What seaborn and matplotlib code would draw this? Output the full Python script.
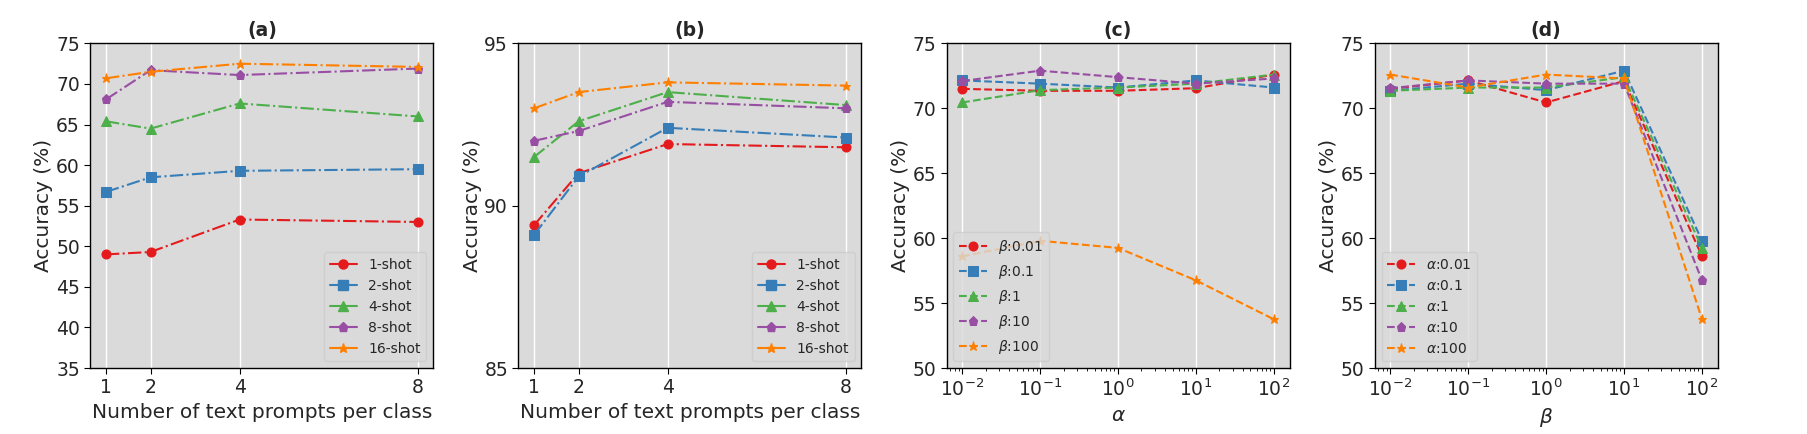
import numpy as np
import pandas as pd
import matplotlib
matplotlib.use("Agg")
import matplotlib.pyplot as plt
from matplotlib.lines import Line2D
import seaborn as sns

# ---- data ----
n_prompts = [1, 2, 4, 8]
shots = ["1-shot", "2-shot", "4-shot", "8-shot", "16-shot"]

# (a) accuracy vs number of text prompts
acc_a_1shot = [49.0, 49.3, 53.3, 53.0]
acc_a_2shot = [56.7, 58.5, 59.3, 59.5]
acc_a_4shot = [65.4, 64.5, 67.6, 66.0]
acc_a_8shot = [68.1, 71.7, 71.1, 71.9]
acc_a_16shot = [70.7, 71.5, 72.5, 72.1]

# (b) accuracy vs number of text prompts
acc_b_1shot = [89.4, 91.0, 91.9, 91.8]
acc_b_2shot = [89.1, 90.9, 92.4, 92.1]
acc_b_4shot = [91.5, 92.6, 93.5, 93.1]
acc_b_8shot = [92.0, 92.3, 93.2, 93.0]
acc_b_16shot = [93.0, 93.5, 93.8, 93.7]

# (c)/(d) accuracy grid, rows = beta, columns = alpha
alphas = [0.01, 0.1, 1, 10, 100]
betas = [0.01, 0.1, 1, 10, 100]
grid_labels = ["0.01", "0.1", "1", "10", "100"]
acc_beta_001 = [71.5, 71.35, 71.35, 71.55, 72.6]
acc_beta_01 = [72.15, 71.9, 71.6, 72.15, 71.6]
acc_beta_1 = [70.45, 71.4, 71.6, 71.9, 72.6]
acc_beta_10 = [72.1, 72.9, 72.4, 71.9, 72.3]
acc_beta_100 = [58.6, 59.8, 59.25, 56.75, 53.75]

colors = ["#e41a1c", "#377eb8", "#4daf4a", "#984ea3", "#ff7f00"]
markers = ["o", "s", "^", "p", "*"]

sns.set_style("darkgrid", {
    "axes.facecolor": "#dadada",
    "axes.edgecolor": "black",
    "grid.color": "white",
    "xtick.bottom": True,
    "ytick.left": True,
})
plt.rcParams["font.family"] = ["DejaVu Sans"]
plt.rcParams["xtick.labelsize"] = 13.5
plt.rcParams["ytick.labelsize"] = 13.5
plt.rcParams["axes.labelsize"] = 14.5

fig, axes = plt.subplots(1, 4, figsize=(18.08, 4.34), dpi=100)
fig.subplots_adjust(left=0.05, right=0.95, top=0.9, bottom=0.152, wspace=0.248)


def shot_panel(ax, series, ylim, yticks, title):
    for vals, name, c, m in zip(series, shots, colors, markers):
        sns.lineplot(x=n_prompts, y=vals, ax=ax, color=c, marker=m,
                     markeredgecolor=c, linestyle="-.", linewidth=1.5,
                     markersize=6.5)
    handles = [Line2D([], [], color=c, marker=m, linestyle="-", markersize=6.5)
               for c, m in zip(colors, markers)]
    ax.legend(handles, shots, loc="lower right", fontsize=10)
    ax.set_xticks(n_prompts)
    ax.set_ylim(*ylim)
    ax.set_yticks(yticks)
    ax.set_xlabel("Number of text prompts per class")
    ax.set_ylabel("Accuracy (%)", labelpad=2)
    ax.set_title(title, fontweight="bold", fontsize=13.5, pad=5)


shot_panel(axes[0], [acc_a_1shot, acc_a_2shot, acc_a_4shot, acc_a_8shot, acc_a_16shot],
           (35, 75), range(35, 76, 5), "(a)")
shot_panel(axes[1], [acc_b_1shot, acc_b_2shot, acc_b_4shot, acc_b_8shot, acc_b_16shot],
           (85, 95), [85, 90, 95], "(b)")

grid = np.array([acc_beta_001, acc_beta_01, acc_beta_1, acc_beta_10, acc_beta_100])


def grid_panel(ax, xs, rows, sym, xsym, title):
    for vals, lab, c, m in zip(rows, grid_labels, colors, markers):
        sns.lineplot(x=xs, y=vals, ax=ax, color=c, marker=m,
                     markeredgecolor=c, linestyle="--", linewidth=1.5,
                     markersize=6.5, label=f"${sym}$:{lab}")
    ax.set_xscale("log")
    ax.set_ylim(50, 75)
    ax.set_yticks(range(50, 76, 5))
    ax.set_xlabel(f"${xsym}$")
    ax.set_ylabel("Accuracy (%)", labelpad=2)
    ax.set_title(title, fontweight="bold", fontsize=13.5, pad=5)
    ax.legend(loc="lower left", fontsize=10)


# (c): one line per beta, x = alpha
grid_panel(axes[2], alphas, grid, r"\beta", r"\alpha", "(c)")
# (d): one line per alpha, x = beta
grid_panel(axes[3], betas, grid.T, r"\alpha", r"\beta", "(d)")

for ax in axes:
    ax.grid(axis="y", visible=False)
    ax.grid(axis="x", which="major", color="white", linewidth=1)
    ax.grid(axis="x", which="minor", visible=False)
    ax.tick_params(axis="both", which="major", length=4, color="black")
    ax.tick_params(axis="x", which="minor", length=2, color="black", bottom=True)
    for s in ax.spines.values():
        s.set_linewidth(1.0)

fig.savefig("out.png", dpi=100)
